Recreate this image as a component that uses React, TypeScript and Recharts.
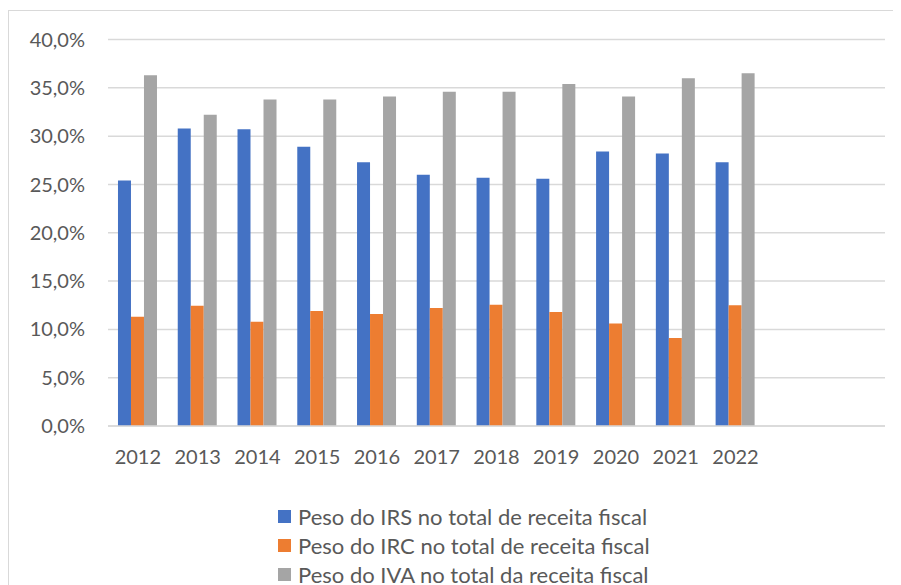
import React from 'react';
import { BarChart, Bar, XAxis, YAxis, CartesianGrid, Legend } from 'recharts';

const years = ['2012', '2013', '2014', '2015', '2016', '2017', '2018', '2019', '2020', '2021', '2022'];
const irs = [25.4, 30.8, 30.7, 28.9, 27.3, 26.0, 25.7, 25.6, 28.4, 28.2, 27.3];
const irc = [11.3, 12.45, 10.8, 11.9, 11.6, 12.2, 12.55, 11.8, 10.6, 9.1, 12.5];
const iva = [36.3, 32.2, 33.8, 33.8, 34.1, 34.6, 34.6, 35.4, 34.1, 36.0, 36.5];
const yTicks = [0, 5, 10, 15, 20, 25, 30, 35, 40];

const seriesNames = [
  'Peso do IRS no total de receita fiscal',
  'Peso do IRC no total de receita fiscal',
  'Peso do IVA no total da receita fiscal',
];
const colors = ['#4472C4', '#ED7D31', '#A5A5A5'];

const data = years.map((y, i) => ({ year: y, irs: irs[i], irc: irc[i], iva: iva[i] }));

const FONT = 'Lato, sans-serif';
const TEXT = '#595959';

const fmt = (v: number) => v.toFixed(1).replace('.', ',') + '%';

const LegendContent = () => (
  <div style={{ fontFamily: FONT, fontSize: 22, color: TEXT, lineHeight: '29px' }}>
    {seriesNames.map((n, i) => (
      <div key={n} style={{ display: 'flex', alignItems: 'center', height: 29, whiteSpace: 'nowrap' }}>
        <span style={{ display: 'inline-block', width: 13, height: 13, background: colors[i], marginRight: 7, flex: 'none' }} />
        <span>{n}</span>
      </div>
    ))}
  </div>
);

export default function App() {
  return (
    <div style={{ position: 'relative', width: 893, height: 600 }}>
      <BarChart
        width={893}
        height={600}
        data={data}
        margin={{ top: 31.5, right: 16, bottom: 122, left: 0 }}
        barCategoryGap="16.7%"
        barGap={0}
      >
        <CartesianGrid vertical={false} stroke="#d9d9d9" strokeWidth={1.5} />
        <XAxis
          dataKey="year"
          height={60}
          padding={{ left: 0, right: 119.6 }}
          tickLine={false}
          tickSize={0}
          tickMargin={24}
          axisLine={{ stroke: '#d9d9d9', strokeWidth: 1.5 }}
          tick={{ fill: TEXT, fontSize: 20, fontFamily: FONT }}
          interval={0}
        />
        <YAxis
          width={100}
          domain={[0, 40]}
          ticks={yTicks}
          tickFormatter={fmt}
          tickLine={false}
          axisLine={false}
          tickSize={0}
          tickMargin={23}
          tick={{ fill: TEXT, fontSize: 20, fontFamily: FONT }}
        />
        <Bar dataKey="irs" name={seriesNames[0]} fill={colors[0]} isAnimationActive={false} />
        <Bar dataKey="irc" name={seriesNames[1]} fill={colors[1]} isAnimationActive={false} />
        <Bar dataKey="iva" name={seriesNames[2]} fill={colors[2]} isAnimationActive={false} />
        <Legend
          layout="horizontal"
          verticalAlign="middle"
          align="center"
          wrapperStyle={{ top: 494, left: 270, width: 420 }}
          content={<LegendContent />}
        />
      </BarChart>
      <div
        style={{
          position: 'absolute',
          left: 0,
          top: 2,
          width: 910,
          height: 620,
          border: '1px solid #d9d9d9',
          pointerEvents: 'none',
        }}
      />
    </div>
  );
}
